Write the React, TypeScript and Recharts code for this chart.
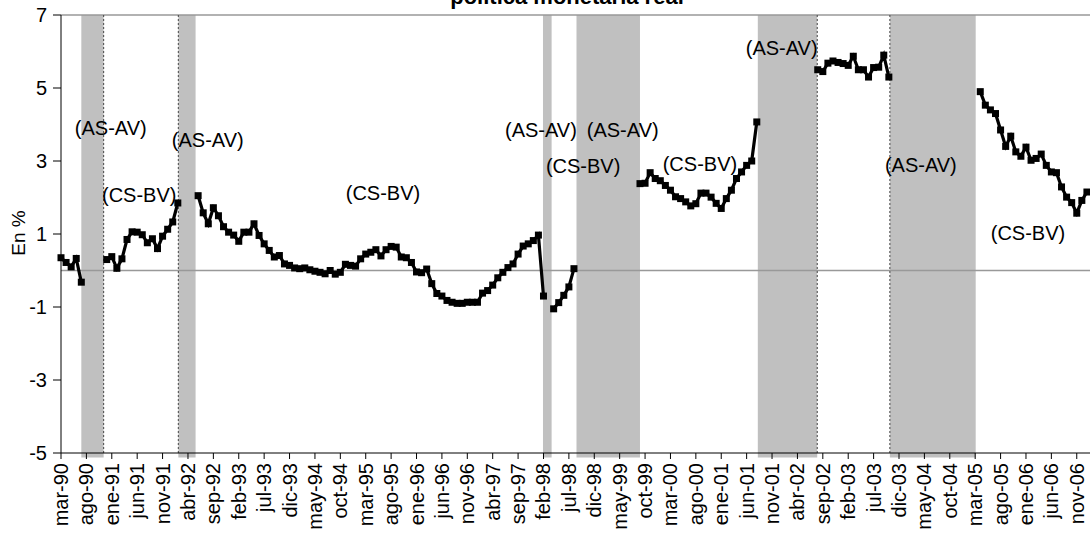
import { LineChart, Line, XAxis, YAxis, ReferenceArea, ReferenceLine, ReferenceDot } from 'recharts';

// monthly series, mar-90 .. ene-07 (null = months hidden behind the shaded periods)
const rate: (number | null)[] = [
    // 1990 (mar-dic)
    0.35, 0.22, 0.10, 0.33, -0.32, null, null, null, null, 0.30,
    // 1991
    0.38, 0.06, 0.32, 0.85, 1.06, 1.05, 0.98, 0.76, 0.87, 0.60, 0.94, 1.13,
    // 1992
    1.33, 1.85, null, null, null, 2.05, 1.58, 1.28, 1.72, 1.50, 1.20, 1.05,
    // 1993
    0.97, 0.80, 1.05, 1.05, 1.28, 0.96, 0.73, 0.55, 0.37, 0.41, 0.18, 0.14,
    // 1994
    0.07, 0.05, 0.07, 0.02, -0.02, -0.05, -0.09, 0.00, -0.10, -0.05, 0.17, 0.14,
    // 1995
    0.12, 0.32, 0.45, 0.50, 0.57, 0.40, 0.57, 0.66, 0.64, 0.37, 0.35, 0.22,
    // 1996
    -0.04, -0.06, 0.04, -0.36, -0.63, -0.70, -0.82, -0.87, -0.90, -0.90, -0.87, -0.87,
    // 1997
    -0.87, -0.62, -0.55, -0.40, -0.20, -0.05, 0.08, 0.18, 0.45, 0.67, 0.73, 0.82,
    // 1998
    0.97, -0.70, null, -1.05, -0.88, -0.68, -0.45, 0.05, null, null, null, null,
    // 1999
    null, null, null, null, null, null, null, null, 2.38, 2.39, 2.68, 2.52,
    // 2000
    2.46, 2.33, 2.20, 2.02, 1.97, 1.88, 1.77, 1.83, 2.12, 2.12, 2.01, 1.84,
    // 2001
    1.70, 1.97, 2.20, 2.52, 2.70, 2.88, 3.00, 4.07, null, null, null, null,
    // 2002
    null, null, null, null, null, null, null, 5.50, 5.45, 5.68, 5.74, 5.70,
    // 2003
    5.67, 5.62, 5.87, 5.50, 5.50, 5.30, 5.56, 5.57, 5.90, 5.30, null, null,
    // 2004
    null, null, null, null, null, null, null, null, null, null, null, null,
    // 2005
    null, null, null, 4.90, 4.53, 4.40, 4.30, 3.85, 3.40, 3.68, 3.25, 3.13,
    // 2006
    3.38, 3.02, 3.07, 3.19, 2.88, 2.70, 2.68, 2.29, 2.01, 1.86, 1.57, 1.92,
    // 2007
    2.15,
];

const tickLabels = [
    'mar-90', 'ago-90', 'ene-91', 'jun-91', 'nov-91', 'abr-92', 'sep-92', 'feb-93', 'jul-93', 'dic-93',
    'may-94', 'oct-94', 'mar-95', 'ago-95', 'ene-96', 'jun-96', 'nov-96', 'abr-97', 'sep-97', 'feb-98',
    'jul-98', 'dic-98', 'may-99', 'oct-99', 'mar-00', 'ago-00', 'ene-01', 'jun-01', 'nov-01', 'abr-02',
    'sep-02', 'feb-03', 'jul-03', 'dic-03', 'may-04', 'oct-04', 'mar-05', 'ago-05', 'ene-06', 'jun-06',
    'nov-06',
];
const tickEvery = 5;

const yTicks = [-5, -3, -1, 1, 3, 5, 7];

// shaded periods, in month index (start, end)
const periodStart = [4.0, 23.1, 94.9, 101.5, 137.2, 163.2];
const periodEnd = [8.4, 26.5, 96.6, 114.0, 148.9, 180.1];
const dottedEdges = [8.4, 23.1, 148.9, 163.2];

// regime notes: month index, value, text
const noteX = [9.8, 28.9, 15.4, 63.4, 94.5, 110.6, 102.8, 125.8, 141.9, 169.3, 190.4];
const noteY = [3.9, 3.57, 2.06, 2.12, 3.85, 3.85, 2.86, 2.91, 6.1, 2.88, 1.02];
const noteText = ['(AS-AV)', '(AS-AV)', '(CS-BV)', '(CS-BV)', '(AS-AV)', '(AS-AV)', '(CS-BV)', '(CS-BV)', '(AS-AV)', '(AS-AV)', '(CS-BV)'];

const FONT = 'Arial, "Liberation Sans", sans-serif';

const data = rate.map((v, i) => ({ i, v }));

function SquareDot(props: any) {
    const { cx, cy, value, index } = props;
    if (value == null || cy == null || isNaN(cy)) return <g key={`d${index}`} />;
    return <rect key={`d${index}`} x={cx - 3.5} y={cy - 3.5} width={7} height={7} fill="#000" />;
}

function MonthTick(props: any) {
    const { x, y, payload } = props;
    const label = tickLabels[Math.round(payload.value / tickEvery)] ?? '';
    return (
        <text
            x={x}
            y={y}
            transform={`rotate(-90 ${x} ${y})`}
            textAnchor="end"
            dominantBaseline="central"
            fontSize={20}
            fontFamily={FONT}
            fill="#000"
        >
            {label}
        </text>
    );
}

export default function App() {
    const xTicks = tickLabels.map((_, k) => k * tickEvery);
    return (
        <div style={{ position: 'absolute', left: 0, top: 0, width: 1090, height: 535, overflow: 'hidden', background: '#fff' }}>
            <LineChart width={1095} height={535} data={data} margin={{ top: 15, right: 3, left: 21, bottom: 0 }}>
                <XAxis
                    dataKey="i"
                    type="number"
                    domain={[0, 203]}
                    ticks={xTicks}
                    interval={0}
                    height={82}
                    axisLine={{ stroke: '#000', strokeWidth: 1 }}
                    tickLine={{ stroke: '#000' }}
                    tickSize={6}
                    tickMargin={4}
                    tick={<MonthTick />}
                />
                <YAxis
                    type="number"
                    domain={[-5, 7]}
                    ticks={yTicks}
                    interval={0}
                    width={40}
                    axisLine={{ stroke: '#000', strokeWidth: 1 }}
                    tickLine={{ stroke: '#000' }}
                    tickSize={8}
                    tickMargin={6}
                    tick={{ fontSize: 20, fill: '#000', fontFamily: FONT }}
                    label={{
                        content: () => (
                            <text x={18} y={233} transform="rotate(-90 18 233)" textAnchor="middle" dominantBaseline="central" fontSize={19} fontFamily={FONT} fill="#000">
                                En %
                            </text>
                        ),
                    }}
                />
                <ReferenceLine y={0} stroke="#999" strokeWidth={1.5} />
                <ReferenceLine y={7} stroke="#999" strokeWidth={1.5} />
                <Line
                    dataKey="v"
                    stroke="#000"
                    strokeWidth={3.2}
                    dot={<SquareDot />}
                    activeDot={false}
                    connectNulls={false}
                    isAnimationActive={false}
                />
                {periodStart.map((s, k) => (
                    <ReferenceArea key={`p${k}`} x1={s} x2={periodEnd[k]} y1={-5.12} y2={7} fill="#C0C0C0" fillOpacity={1} stroke="none" ifOverflow="visible" />
                ))}
                {dottedEdges.map((e, k) => (
                    <ReferenceLine key={`e${k}`} x={e} stroke="#444" strokeWidth={1} strokeDasharray="2 2" />
                ))}
                {noteText.map((t, k) => (
                    <ReferenceDot
                        key={`n${k}`}
                        x={noteX[k]}
                        y={noteY[k]}
                        r={0}
                        fill="none"
                        stroke="none"
                        ifOverflow="visible"
                        label={{ value: t, position: 'center', fill: '#000', fontSize: 20, fontFamily: FONT }}
                    />
                ))}
            </LineChart>
            <svg width={1090} height={20} style={{ position: 'absolute', left: 0, top: 0 }}>
                <text x={567} y={4} textAnchor="middle" fontSize={22} fontWeight="bold" fontFamily={FONT} fill="#000">
                    política monetaria real
                </text>
            </svg>
        </div>
    );
}
